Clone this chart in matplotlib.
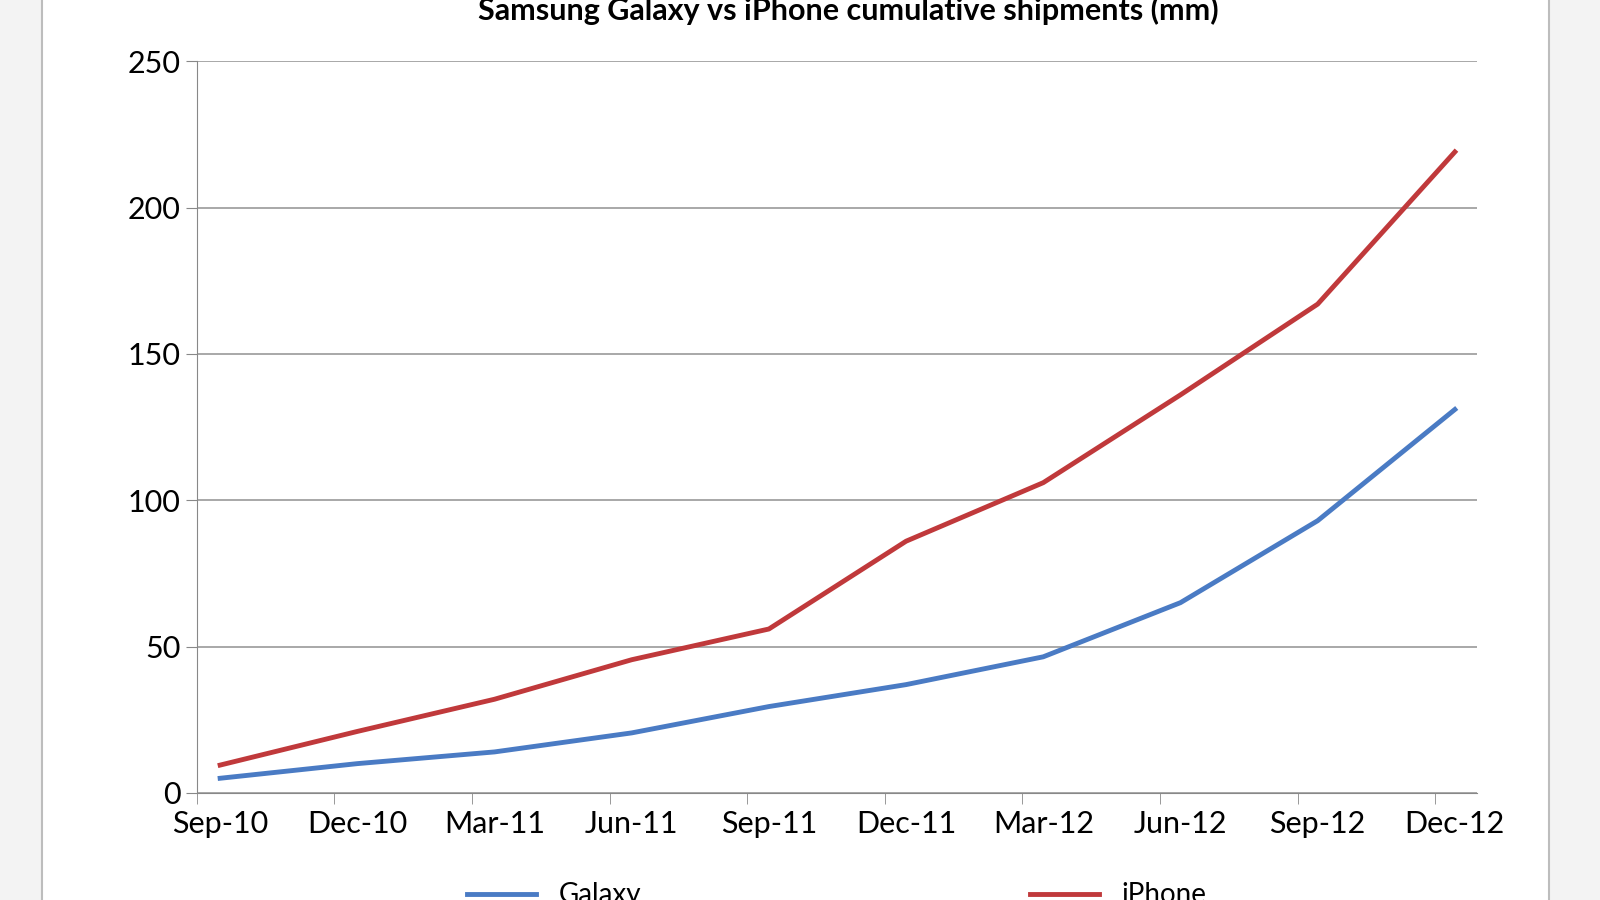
import matplotlib.pyplot as plt
from matplotlib.patches import Rectangle

plt.rcParams['font.family'] = ['Lato', 'DejaVu Sans']

categories = ["Sep-10","Dec-10","Mar-11","Jun-11","Sep-11","Dec-11","Mar-12","Jun-12","Sep-12","Dec-12"]
galaxy = [5, 10, 14, 20.5, 29.5, 37, 46.5, 65, 93, 131]
iphone = [9.5, 21, 32, 45.5, 56, 86, 106, 136, 167, 219]

fig = plt.figure(figsize=(16, 9), dpi=100)
fig.patch.set_facecolor("#f3f3f3")
bg = Rectangle((0.026, -0.01), 0.942, 1.02, transform=fig.transFigure,
               facecolor="white", edgecolor="#bdbdbd", lw=1.5, zorder=-10)
fig.patches.append(bg)
ax = fig.add_axes([0.123, 0.119, 0.8, 0.813])
ax.set_facecolor("white")
x = list(range(len(categories)))
ax.plot(x, galaxy, color="#4a7bc4", lw=3.5, label="Galaxy")
ax.plot(x, iphone, color="#c0393b", lw=3.5, label="iPhone")
ax.set_xlim(-0.17, 9.16)
ax.set_ylim(0, 250)
ax.set_yticks(range(0, 251, 50))
ax.set_xticks(x)
ax.set_xticklabels(categories)
ax.set_xticks([-0.17 + k * 1.003 for k in range(10)], minor=True)
ax.tick_params(axis="x", which="major", length=0, pad=12, labelsize=22)
ax.tick_params(axis="x", which="minor", length=8, color="#888888")
ax.tick_params(axis="y", labelsize=22, length=8, color="#888888")
ax.grid(axis="y", color="#999999", lw=1.2)
for s in ["top", "right"]:
    ax.spines[s].set_visible(False)
for s in ["left", "bottom"]:
    ax.spines[s].set_color("#888888")
fig.text(0.53, 0.988, "Samsung Galaxy vs iPhone cumulative shipments (mm)", ha="center",
         va="center", fontsize=22, fontweight="bold")
ax.legend(loc="center", bbox_to_anchor=(0.5, -0.14), ncol=2, frameon=False,
          fontsize=20, columnspacing=14, handlelength=2.5)
fig.savefig("out.png")
